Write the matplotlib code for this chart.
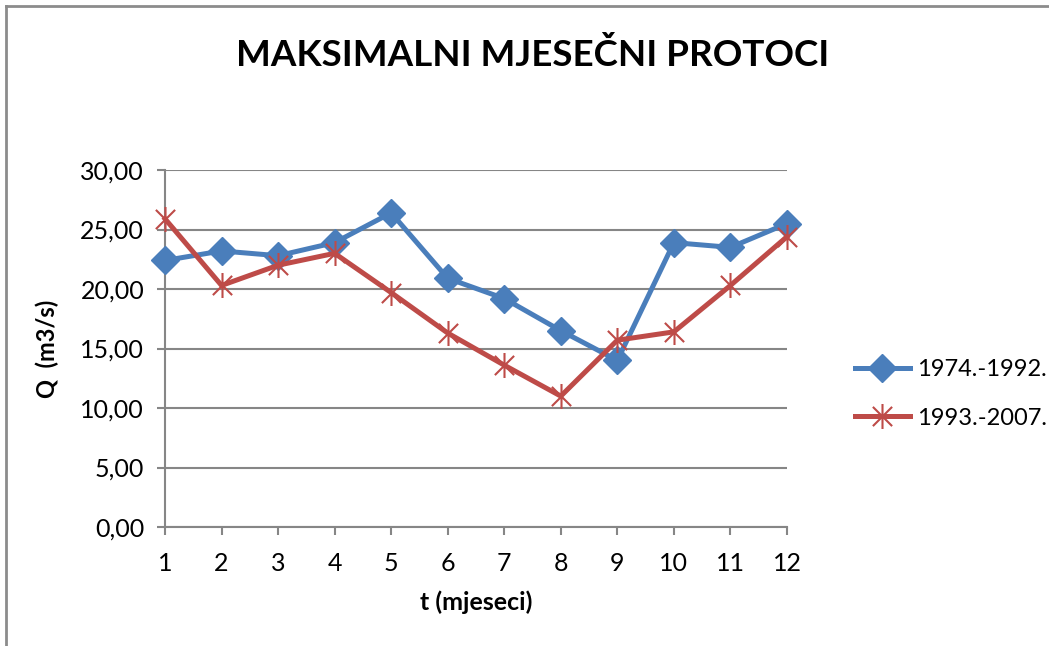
import matplotlib
matplotlib.use('Agg')
import matplotlib.pyplot as plt
from matplotlib.path import Path
from matplotlib.lines import Line2D

# data
months = [1, 2, 3, 4, 5, 6, 7, 8, 9, 10, 11, 12]
q_1974_1992 = [22.4, 23.2, 22.8, 23.9, 26.4, 20.9, 19.2, 16.5, 14.0, 23.9, 23.5, 25.5]
q_1993_2007 = [25.9, 20.3, 22.0, 23.0, 19.7, 16.3, 13.6, 11.0, 15.7, 16.4, 20.3, 24.4]
yticks = [0, 5, 10, 15, 20, 25, 30]
series_names = ['1974.-1992.', '1993.-2007.']

blue = '#4A7EBB'
red = '#BE4B48'
grid_col = '#868686'
font = ['Lato', 'DejaVu Sans']
plt.rcParams['font.family'] = font

# Excel style asterisk: X plus a vertical bar
star = Path([(-1, -1), (1, 1), (-1, 1), (1, -1), (0, -1.3), (0, 1.3)],
            [Path.MOVETO, Path.LINETO, Path.MOVETO, Path.LINETO, Path.MOVETO, Path.LINETO])

fig = plt.figure(figsize=(10.49, 6.46), dpi=100)
ax = fig.add_axes([0.1573, 0.1842, 0.7502 - 0.1573, 0.7368 - 0.1842])

# chart area border (top and left only visible)
fig.add_artist(Line2D([0.006, 1.0], [0.991, 0.991], color='#8c8c8c', lw=2, transform=fig.transFigure))
fig.add_artist(Line2D([0.006, 0.006], [0.0, 0.991], color='#8c8c8c', lw=2, transform=fig.transFigure))

ax.plot(months, q_1974_1992, color=blue, lw=3.6, marker='D', markersize=14,
        markerfacecolor=blue, markeredgecolor=blue, label=series_names[0], zorder=3,
        clip_on=False)
ax.plot(months, q_1993_2007, color=red, lw=3.6, marker=star, markersize=18,
        markerfacecolor='none', markeredgecolor=red, markeredgewidth=1.5,
        label=series_names[1], zorder=3, clip_on=False)

ax.set_xlim(1, 12)
ax.set_ylim(0, 30)
ax.set_xticks(months)
ax.set_yticks(yticks)
ax.set_yticklabels([('%.2f' % v).replace('.', ',') for v in yticks])
ax.yaxis.grid(True, color=grid_col, lw=1.5)
ax.set_axisbelow(True)
for s in ['top', 'right']:
    ax.spines[s].set_visible(False)
for s in ['left', 'bottom']:
    ax.spines[s].set_color(grid_col)
    ax.spines[s].set_linewidth(1.5)
ax.tick_params(axis='both', colors=grid_col, length=6, width=1.5, labelsize=18,
               labelcolor='black')
ax.tick_params(axis='x', pad=12)
ax.tick_params(axis='y', pad=9)

ax.set_xlabel('t (mjeseci)', fontsize=18, fontweight='bold', labelpad=11)
ax.set_ylabel('Q  (m3/s)', fontsize=17, fontweight='bold', labelpad=15)

fig.text(0.508, 0.915, 'MAKSIMALNI MJESEČNI PROTOCI', ha='center', va='center',
         fontsize=26.5, fontweight='bold')

ax.legend(loc='center left', bbox_to_anchor=(0.795, 0.39), bbox_transform=fig.transFigure,
          frameon=False, fontsize=17, handlelength=2.3, labelspacing=1.15, handletextpad=0.3)

plt.savefig('out.png', dpi=100)
